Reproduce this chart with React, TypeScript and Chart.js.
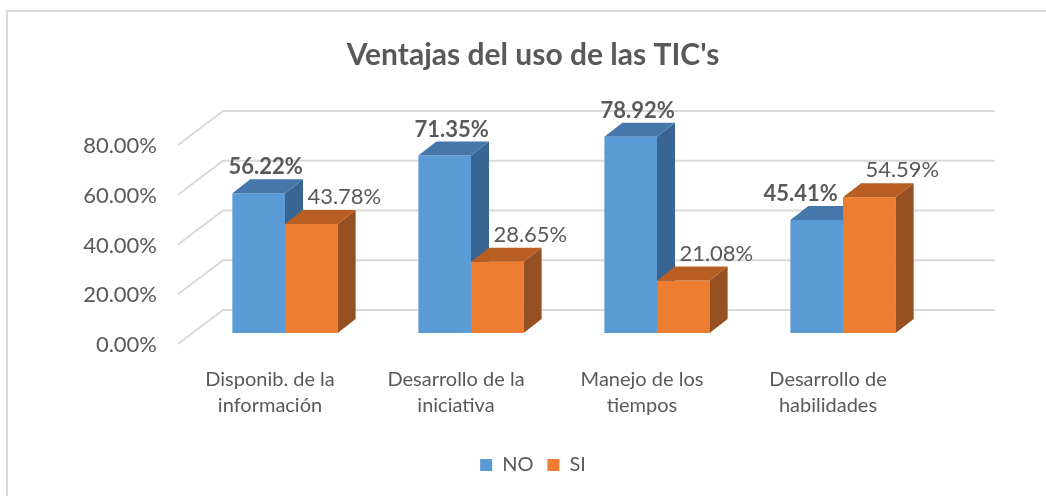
import React, { useEffect, useRef } from "react";
import { Chart, registerables } from "chart.js";

Chart.register(...registerables);

const titleText = "Ventajas del uso de las TIC's";
const categories = [
  ["Disponib. de la", "información"],
  ["Desarrollo de la", "iniciativa"],
  ["Manejo de los", "tiempos"],
  ["Desarrollo de", "habilidades"],
];
const seriesNames = ["NO", "SI"];
const noValues = [56.22, 71.35, 78.92, 45.41];
const siValues = [43.78, 28.65, 21.08, 54.59];
const yTicks = [0, 20, 40, 60, 80];

const FONT = "Lato, 'Open Sans', sans-serif";
const TEXT = "#595959";
const GRID = "#D9D9D9";
const DX = 18;
const DY = -14;
const frontColors = ["#5B9BD5", "#ED7D31"];
const faceColors = [
  { top: "#4677AA", side: "#386591" },
  { top: "#B85E22", side: "#975021" },
];

const fmt = (v: number) => v.toFixed(2) + "%";

const threeD = {
  id: "threeD",
  beforeDatasetsDraw(chart: any) {
    const { ctx, chartArea, scales } = chart;
    const ys = scales.y;
    ctx.save();
    ctx.strokeStyle = GRID;
    ctx.lineWidth = 2;
    ctx.lineJoin = "round";
    const wl = chartArea.left + 31;
    const wr = chartArea.right + 59;
    yTicks.forEach((v) => {
      const by = ys.getPixelForValue(v) - 23;
      ctx.beginPath();
      ctx.moveTo(chartArea.left - 14, by + 34);
      ctx.lineTo(wl, by);
      ctx.lineTo(wr, by);
      ctx.stroke();
    });
    ctx.restore();
  },
  beforeDatasetDraw() {
    return false;
  },
  afterDatasetsDraw(chart: any) {
    const { ctx, chartArea } = chart;
    ctx.save();
    [0, 1].forEach((di) => {
      const meta = chart.getDatasetMeta(di);
      const c = faceColors[di];
      meta.data.forEach((bar: any) => {
        bar.draw(ctx, chartArea);
        const { x, y, width, base } = bar.getProps(["x", "y", "width", "base"], true);
        const L = x - width / 2;
        const R = x + width / 2;
        ctx.fillStyle = c.side;
        ctx.beginPath();
        ctx.moveTo(R, y);
        ctx.lineTo(R + DX, y + DY);
        ctx.lineTo(R + DX, base + DY);
        ctx.lineTo(R, base);
        ctx.closePath();
        ctx.fill();
        ctx.fillStyle = c.top;
        ctx.beginPath();
        ctx.moveTo(L, y);
        ctx.lineTo(R, y);
        ctx.lineTo(R + DX, y + DY);
        ctx.lineTo(L + DX, y + DY);
        ctx.closePath();
        ctx.fill();
      });
    });

    ctx.fillStyle = TEXT;
    ctx.textAlign = "center";
    ctx.textBaseline = "middle";
    const m0 = chart.getDatasetMeta(0);
    const m1 = chart.getDatasetMeta(1);
    m0.data.forEach((bar: any, i: number) => {
      const { x, y } = bar.getProps(["x", "y"], true);
      const off = siValues[i] > noValues[i] ? -16 : 7;
      ctx.font = `bold 22px ${FONT}`;
      ctx.fillText(fmt(noValues[i]), x + off, y + DY - 12);
    });
    m1.data.forEach((bar: any, i: number) => {
      const { x, y } = bar.getProps(["x", "y"], true);
      ctx.font = `22px ${FONT}`;
      ctx.fillText(fmt(siValues[i]), x + 33, y + DY - 13);
    });
    ctx.restore();
  },
};

export default function App() {
  const ref = useRef<HTMLCanvasElement | null>(null);
  useEffect(() => {
    if (!ref.current) return;
    const chart = new Chart(ref.current, {
      type: "bar",
      data: {
        labels: categories,
        datasets: [
          {
            label: seriesNames[0],
            data: noValues,
            backgroundColor: frontColors[0],
            borderWidth: 0,
            categoryPercentage: 0.566,
            barPercentage: 1,
          },
          {
            label: seriesNames[1],
            data: siValues,
            backgroundColor: frontColors[1],
            borderWidth: 0,
            categoryPercentage: 0.566,
            barPercentage: 1,
          },
        ],
      },
      options: {
        responsive: false,
        animation: false,
        layout: { padding: { left: 20, right: 0, top: 0, bottom: 11 } },
        scales: {
          x: {
            grid: { display: false, drawTicks: false },
            border: { display: false },
            ticks: {
              color: TEXT,
              font: { family: FONT, size: 20, lineHeight: 26 / 20 },
              padding: 34,
              labelOffset: -15,
              autoSkip: false,
              maxRotation: 0,
            },
            afterFit: (s: any) => {
              s.height = 108;
            },
          },
          y: {
            min: 0,
            max: 80,
            grid: { display: false, drawTicks: false },
            border: { display: false },
            ticks: {
              stepSize: 20,
              color: TEXT,
              font: { family: FONT, size: 22 },
              padding: 35,
              labelOffset: 12,
              callback: (v: any) => fmt(Number(v)),
            },
            afterFit: (s: any) => {
              s.width = 172;
            },
          },
          y2: {
            position: "right",
            display: true,
            grid: { display: false, drawTicks: false },
            border: { display: false },
            ticks: { display: false },
            afterFit: (s: any) => {
              s.width = 110;
            },
          },
        },
        plugins: {
          title: {
            display: true,
            text: titleText,
            color: TEXT,
            font: { family: FONT, size: 30, weight: "bold", lineHeight: 1.2 },
            padding: { top: 37, bottom: 61 },
          },
          legend: {
            display: true,
            position: "bottom",
            labels: {
              color: TEXT,
              font: { family: FONT, size: 20 },
              boxWidth: 12,
              boxHeight: 12,
              padding: 14,
            },
          },
          tooltip: { enabled: false },
        },
      },
      plugins: [threeD],
    } as any);
    return () => chart.destroy();
  }, []);

  return (
    <div
      style={{
        position: "fixed",
        left: 0,
        top: 0,
        width: 1046,
        height: 496,
        overflow: "hidden",
        background: "#fff",
      }}
    >
      <div
        style={{
          position: "absolute",
          left: 6,
          top: 10,
          width: 1200,
          height: 700,
          borderTop: "2px solid #D9D9D9",
          borderLeft: "2px solid #D9D9D9",
        }}
      />
      <canvas
        ref={ref}
        width={1046}
        height={496}
        style={{ position: "absolute", left: 0, top: 0 }}
      />
    </div>
  );
}
